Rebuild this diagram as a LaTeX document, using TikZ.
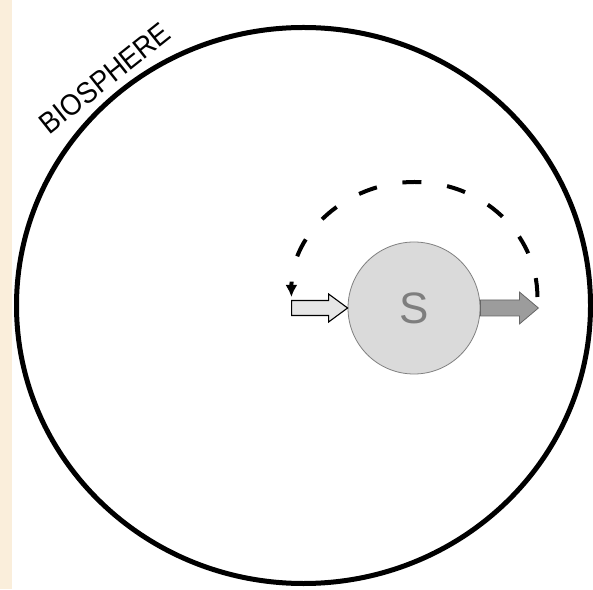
\documentclass[tikz,border=0pt]{standalone}
\usepackage{fontspec}
\setsansfont{Liberation Sans}
\usetikzlibrary{arrows.meta,positioning,calc}
\definecolor{cream}{HTML}{FAEEDB}
\definecolor{disc}{HTML}{DADADA}
\definecolor{inflow}{HTML}{E6E6E6}
\definecolor{outflow}{HTML}{9C9C9C}
\definecolor{letter}{HTML}{7E7E7E}
\tikzset{rim/.style={line width=5pt,draw=black},sysdisc/.style={circle,draw=gray,line width=0.8pt,fill=disc,minimum size=132pt,inner sep=0pt,font=\sffamily\fontsize{44}{50}\selectfont,text=letter},inblock/.style={draw=black,line width=1.1pt,fill=inflow},outblock/.style={draw=gray!80!black,line width=0.8pt,fill=outflow},loopback/.style={line width=4pt,dash pattern=on 19pt off 26pt,-{Latex[length=12pt,width=12pt]}},tag/.style={font=\sffamily\fontsize{27}{32}\selectfont,inner sep=0pt}}

\begin{document}
\begin{tikzpicture}[x=1pt,y=1pt]
\useasboundingbox (0,0) rectangle (593,589);
\fill[white] (0,0) rectangle (593,589);
\fill[cream] (0,0) rectangle (12,589);
% biosphere
\draw[rim] (303.5,283.5) ellipse [x radius=287,y radius=278];
\node[tag,rotate=38.5,yscale=1.1] (bio) at (105,511) {BIOSPHERE};
% system with in- and outflow
\node[sysdisc] (S) at (414,281) {S};
\draw[inblock] (S.west) -- ++(-19,14) -- ++(0,-6.5) -- ++(-37,0) -- ++(0,-15) -- ++(37,0) -- ++(0,-6.5) -- cycle;
\draw[outblock] ($(S.east)+(0,8)$) -- ++(39,0) -- ++(0,8) -- ++(19,-16) -- ++(-19,-16) -- ++(0,8) -- ++(-39,0) -- cycle;
\coordinate (back) at ($(S.east)+(57,11)$);
\draw[loopback] (back) arc[start angle=0,end angle=180,x radius=123,y radius=115];
\end{tikzpicture}
\end{document}
